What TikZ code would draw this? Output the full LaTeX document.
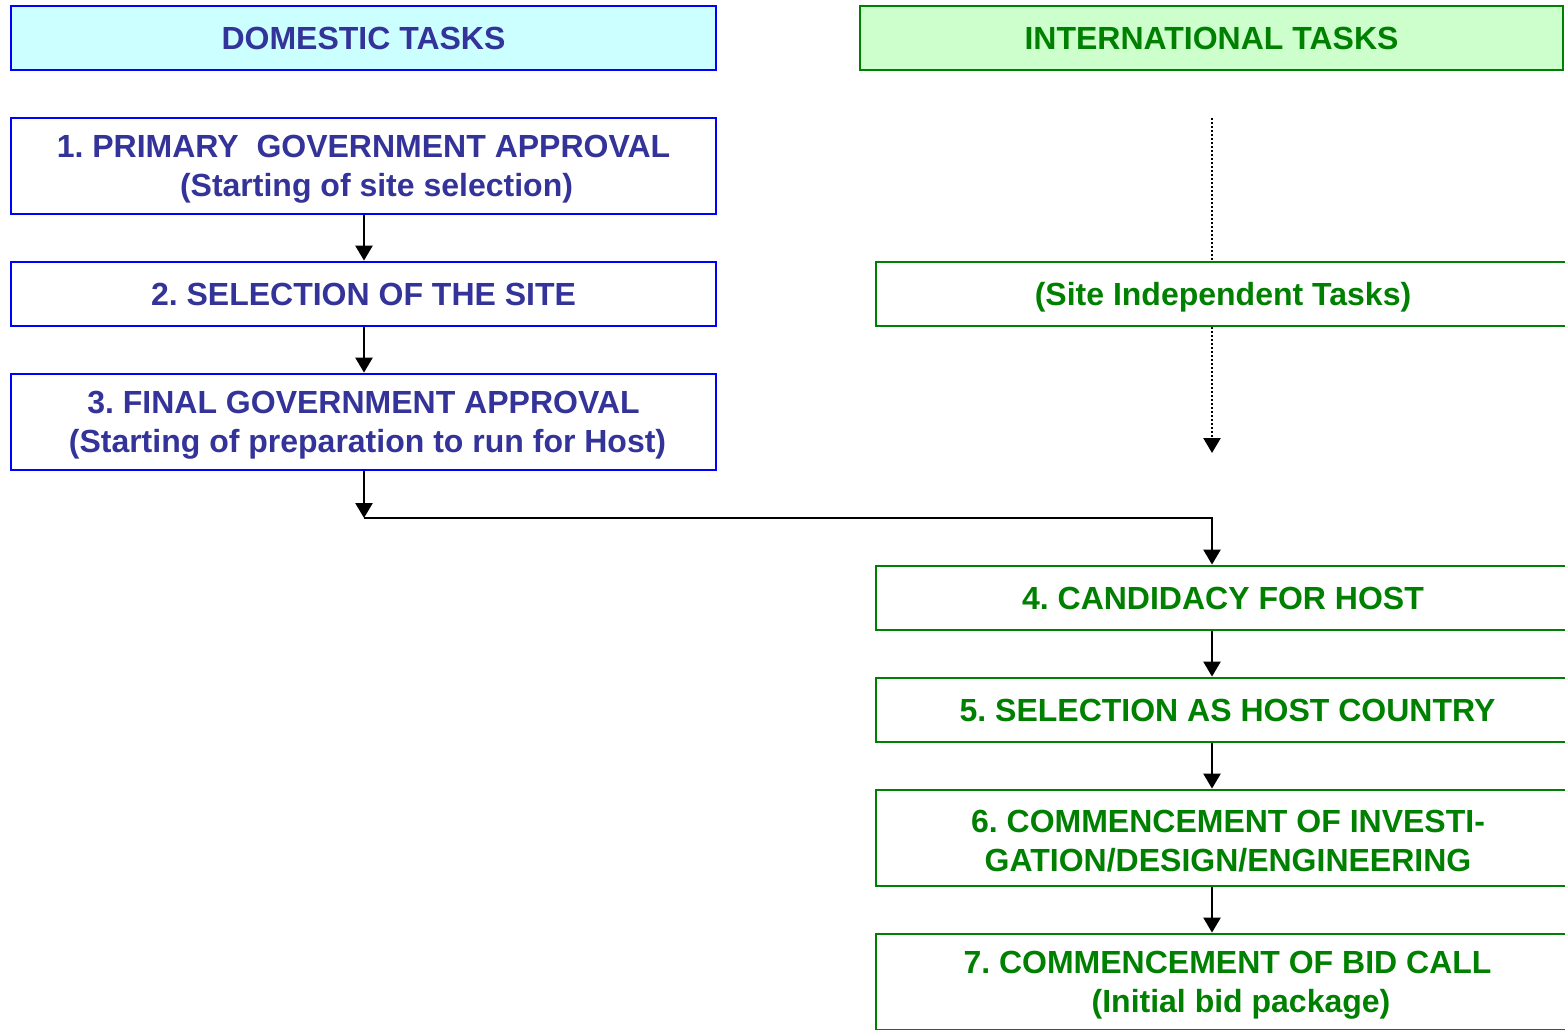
\documentclass[tikz,border=0pt]{standalone}
\usepackage{fontspec}
\setmainfont{Liberation Sans}
\usetikzlibrary{arrows.meta}
\definecolor{domtext}{HTML}{333399}
\definecolor{domline}{HTML}{0000FF}
\definecolor{domfill}{HTML}{CCFFFF}
\definecolor{inttext}{HTML}{008000}
\definecolor{intfill}{HTML}{CCFFCC}
\newcommand{\upstrut}{\rule{0pt}{29pt}}
\frenchspacing
\begin{document}
\begin{tikzpicture}[x=1pt,y=-1pt,>={Triangle[width=17pt,length=15pt]}, font=\fontsize{32}{39}\selectfont\bfseries, line join=miter,
	dombox/.style={draw=domline,line width=2.8pt,text=domtext,fill=white,minimum width=705pt,inner sep=0pt,align=center},
	intbox/.style={draw=inttext,line width=2.8pt,text=inttext,fill=white,minimum width=700pt,inner sep=0pt,align=center},
	flow/.style={->,line width=2.5pt}]
	\useasboundingbox (0,0) rectangle (1565,1029);
	\clip (0,0) rectangle (1565,1029);
	% domestic column
	\node[dombox,fill=domfill,minimum height=64pt] (dom) at (363.5,38) {DOMESTIC TASKS};
	\node[dombox,minimum height=96pt] (d1) at (363.5,166) {\upstrut1. PRIMARY\ \ GOVERNMENT APPROVAL\\\hspace*{26pt}(Starting of site selection)};
	\node[dombox,minimum height=64pt] (d2) at (363.5,294) {2. SELECTION OF THE SITE};
	\node[dombox,minimum height=96pt] (d3) at (363.5,422) {\upstrut3. FINAL GOVERNMENT APPROVAL\\\hspace*{8pt}(Starting of preparation to run for Host)};
	% international column
	\node[intbox,fill=intfill,minimum width=703pt,minimum height=64pt] (int) at (1211.5,38) {INTERNATIONAL TASKS};
	\coordinate (top) at (1212,118);
	\node[intbox,minimum height=64pt,text height=23pt,text depth=0pt] (si) at (1226,294) {\hspace*{-6pt}(Site Independent Tasks)};
	\coordinate (sie) at (1212,453);
	\node[intbox,minimum height=64pt] (i4) at (1226,598) {\hspace*{-6pt}4. CANDIDACY FOR HOST};
	\node[intbox,minimum height=64pt] (i5) at (1226,710) {\hspace*{3pt}5. SELECTION AS HOST COUNTRY};
	\node[intbox,minimum height=96pt] (i6) at (1226,838) {\upstrut\hspace*{4pt}6. COMMENCEMENT OF INVESTI-\\\hspace*{4pt}GATION/DESIGN/ENGINEERING};
	\node[intbox,minimum height=96pt] (i7) at (1226,982) {\upstrut\hspace*{3pt}7. COMMENCEMENT OF BID CALL\\\hspace*{30pt}(Initial bid package)};
	\coordinate (join) at (364,518);
	% connectors
	\draw[flow] (d1.south -| join) -- (d2.north -| join);
	\draw[flow] (d2.south -| join) -- (d3.north -| join);
	\draw[flow] (d3.south -| join) -- (join);
	\draw[flow] (join) -- (join -| top) -- (i4.north -| top);
	\draw[line width=2.5pt,dash pattern=on 2pt off 2pt] (top) -- (si.north -| top);
	\draw[flow,dash pattern=on 2pt off 2pt] (si.south -| top) -- (sie);
	\draw[flow] (i4.south -| top) -- (i5.north -| top);
	\draw[flow] (i5.south -| top) -- (i6.north -| top);
	\draw[flow] (i6.south -| top) -- (i7.north -| top);
\end{tikzpicture}
\end{document}
